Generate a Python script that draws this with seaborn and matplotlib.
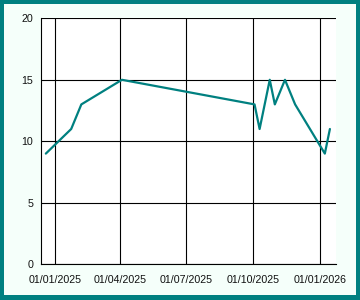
import matplotlib
matplotlib.use("Agg")
import matplotlib.pyplot as plt
import matplotlib.dates as mdates
import matplotlib.patches as patches
import pandas as pd
import seaborn as sns

dates = ["2024-12-19", "2025-01-23", "2025-02-06", "2025-04-03",
         "2025-10-03", "2025-10-10", "2025-10-24", "2025-10-31",
         "2025-11-14", "2025-11-28", "2026-01-08", "2026-01-15"]
values = [9, 11, 13, 15, 13, 11, 15, 13, 15, 13, 9, 11]

df = pd.DataFrame({"date": pd.to_datetime(dates), "value": values})

sns.set_style("white")
plt.rcParams['font.family'] = ['Liberation Sans', 'DejaVu Sans']

fig = plt.figure(figsize=(3.6, 3.0), dpi=100, facecolor="#008080")
fig.patches.append(patches.Rectangle((4/360, 5/300), 1 - 8/360, 1 - 9/300,
                                     transform=fig.transFigure, facecolor="#F5FFFA",
                                     edgecolor="none", zorder=-10))
ax = fig.add_axes([41/360, 35.7/300, (335.7-41)/360, (264.3-18.3)/300])
ax.set_facecolor("white")

sns.lineplot(data=df, x="date", y="value", ax=ax, color="#008080", linewidth=1.6)

ax.set_xlim(pd.Timestamp("2024-12-12 08:00"), pd.Timestamp("2026-01-23"))
ax.set_ylim(0, 20)
ax.set_yticks([0, 5, 10, 15, 20])
ax.xaxis.set_major_locator(mdates.MonthLocator(bymonth=[1, 4, 7, 10]))
ax.xaxis.set_major_formatter(mdates.DateFormatter("%d/%m/%Y"))

ax.grid(True, color="black", linewidth=0.8)
ax.set_axisbelow(True)
for s in ["top", "right"]:
    ax.spines[s].set_visible(False)
for s in ["left", "bottom"]:
    ax.spines[s].set_color("black")
    ax.spines[s].set_linewidth(0.8)
ax.tick_params(axis="both", which="major", direction="out", length=3.5, width=0.8,
               color="black", labelsize=7.7, labelcolor="#111111")
ax.tick_params(axis="x", pad=4)
ax.tick_params(axis="y", pad=2)
ax.set_xlabel("")
ax.set_ylabel("")

fig.savefig("out.png", dpi=100, facecolor=fig.get_facecolor())
